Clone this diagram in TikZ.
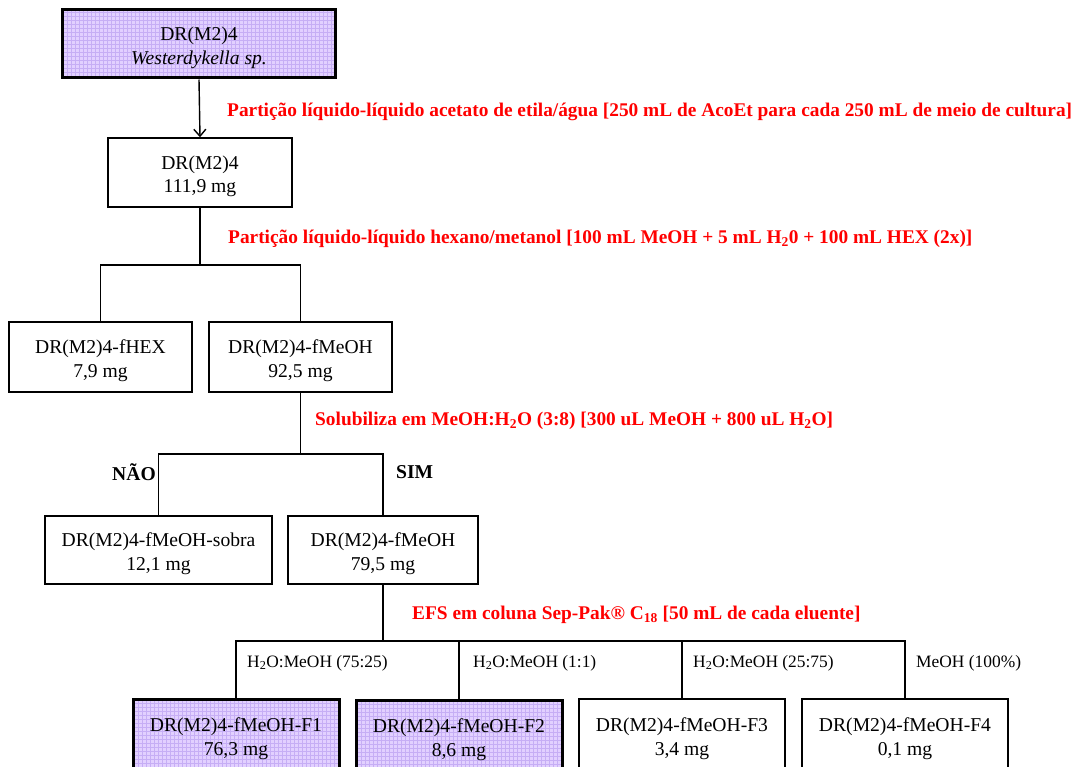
\documentclass[tikz,border=0pt]{standalone}
\usepackage{fontspec}
\setmainfont{Liberation Serif}
\usetikzlibrary{arrows.meta}
\definecolor{lav}{RGB}{226,208,255}
\definecolor{lavgrid}{RGB}{198,174,245}
\definecolor{redlab}{RGB}{255,0,0}
\newcommand{\boxfont}{\fontsize{19.6}{23.5}\selectfont}
\newcommand{\redfont}{\fontsize{19.35}{23}\selectfont}
\newcommand{\elufont}{\fontsize{17.4}{20}\selectfont}
\newcommand{\bx}[2]{\rule{0pt}{21pt}#1\\#2}
\begin{document}
\begin{tikzpicture}[x=1pt,y=-1pt,
  box/.style={draw, line width=1.4pt, rectangle, inner sep=0pt, align=center, font=\boxfont},
  hibox/.style={box, line width=3pt, fill=lav,
    path picture={\draw[lavgrid, line width=0.4pt, step=4pt]
      (path picture bounding box.south west) grid (path picture bounding box.north east);}},
  link/.style={line width=1.4pt},
  stem/.style={line width=2.6pt},
  redlabel/.style={anchor=west, inner sep=0pt, text=redlab, font=\redfont\bfseries},
  decision/.style={anchor=west, inner sep=0pt, font=\boxfont\bfseries},
  elulabel/.style={anchor=west, inner sep=0pt, font=\elufont}
]
\useasboundingbox (0,0) rectangle (1078,767);
\clip (0,0) rectangle (1078,767);

% boxes
\node[hibox, minimum width=273pt, minimum height=68pt] (top) at (199,44) {\bx{DR(M2)4}{\textit{Westerdykella sp.}}};
\node[box, minimum width=184pt, minimum height=69pt] (b2) at (200,172.5) {\bx{DR(M2)4}{111,9 mg}};
\node[box, minimum width=183pt, minimum height=70pt] (fhex) at (100.5,357) {\bx{DR(M2)4-fHEX}{7,9 mg}};
\node[box, minimum width=183pt, minimum height=70pt] (fmeoh) at (300.5,357) {\bx{DR(M2)4-fMeOH}{92,5 mg}};
\node[box, minimum width=227pt, minimum height=68pt] (sobra) at (158.5,550) {\bx{DR(M2)4-fMeOH-sobra}{12,1 mg}};
\node[box, minimum width=190pt, minimum height=68pt] (fmeoh2) at (383,550) {\bx{DR(M2)4-fMeOH}{79,5 mg}};
\node[hibox, minimum width=206pt, minimum height=72pt] (f1) at (236,735) {\bx{DR(M2)4-fMeOH-F1}{76,3 mg}};
\node[hibox, minimum width=206pt, minimum height=72pt] (f2) at (459,736) {\bx{DR(M2)4-fMeOH-F2}{8,6 mg}};
\node[box, minimum width=206pt, minimum height=72pt] (f3) at (682,735) {\bx{DR(M2)4-fMeOH-F3}{3,4 mg}};
\node[box, minimum width=206pt, minimum height=72pt] (f4) at (905,735) {\bx{DR(M2)4-fMeOH-F4}{0,1 mg}};

% junctions
\coordinate (j1) at (200,265);
\coordinate (j2) at (300.5,454);
\coordinate (j3) at (383,641);

% connectors
\draw[link, -{Straight Barb[length=7pt,width=12pt]}] (top.south) -- (b2.north);
\draw[link] (b2.south) -- (j1);
\draw[link] (fhex.north) |- (j1) -| (fmeoh.north);
\draw[link] (fmeoh.south) -- (j2);
\draw[link] (sobra.north) |- (j2) -| (fmeoh2.north);
\draw[stem] (fmeoh2.south) -- (j3);
\draw[link] (f1.north) |- (j3) -| (f4.north);
\draw[link] (f2.north) -- (f2.north |- j3);
\draw[link] (f3.north) -- (f3.north |- j3);

% red process labels
\node[redlabel] (l1) at (227,112) {Partição líquido-líquido acetato de etila/água [250 mL de AcoEt para cada 250 mL de meio de cultura]};
\node[redlabel] (l2) at (228,239) {Partição líquido-líquido hexano/metanol [100 mL MeOH + 5 mL H\textsubscript{2}0 + 100 mL HEX (2x)]};
\node[redlabel] (l3) at (315,421) {Solubiliza em MeOH:H\textsubscript{2}O (3:8) [300 uL MeOH + 800 uL H\textsubscript{2}O]};
\node[redlabel] (l4) at (412,615) {EFS em coluna Sep-Pak® C\textsubscript{18} [50 mL de cada eluente]};

% decisions
\node[decision] (nao) at (112,472) {NÃO};
\node[decision] (sim) at (396,472) {SIM};

% eluents
\node[elulabel] (e1) at (247,663) {H\textsubscript{2}O:MeOH (75:25)};
\node[elulabel] (e2) at (473,663) {H\textsubscript{2}O:MeOH (1:1)};
\node[elulabel] (e3) at (693,663) {H\textsubscript{2}O:MeOH (25:75)};
\node[elulabel] (e4) at (916,663) {MeOH (100\%)};
\end{tikzpicture}
\end{document}
